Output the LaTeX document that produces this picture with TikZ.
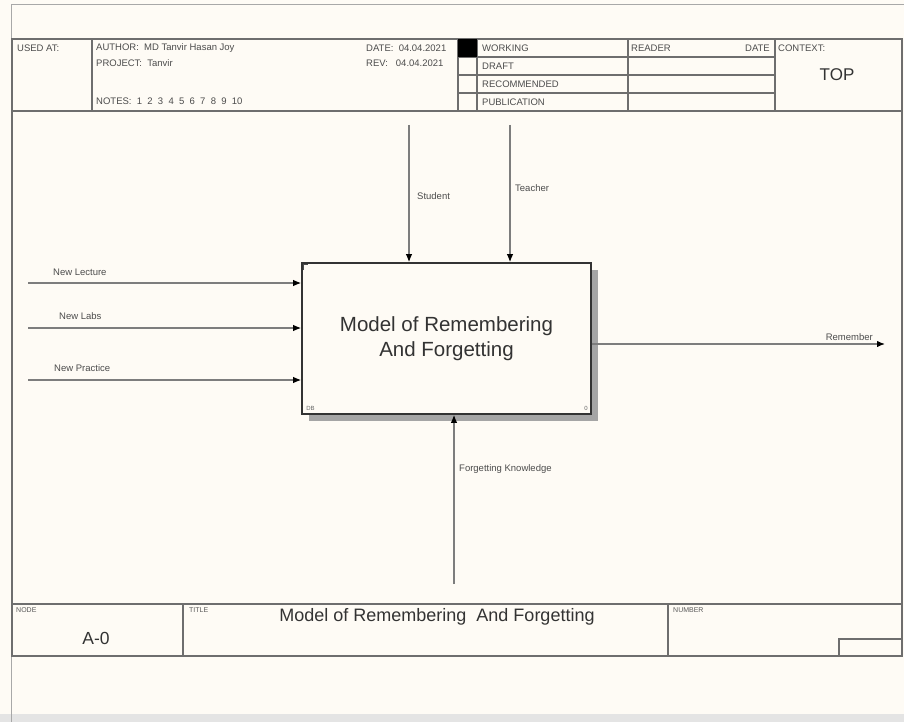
\documentclass[tikz,border=0pt]{standalone}
\usepackage{fontspec}
\setmainfont{Liberation Sans}
\usepackage{xcolor}
\usetikzlibrary{arrows.meta,positioning,calc}
\definecolor{paper}{RGB}{254,251,245}
\definecolor{gridline}{RGB}{110,110,110}
\definecolor{flowline}{RGB}{125,125,125}
\definecolor{shadowgray}{RGB}{165,165,165}
\definecolor{scrollgray}{RGB}{228,228,228}
\newcommand{\fsz}[1]{\fontsize{#1}{#1}\selectfont}

\begin{document}
\begin{tikzpicture}[x=1pt,y=-1pt,>={Latex[length=8pt,width=6.5pt,black]},
  lbl/.style={font=\fsz{9.5},text=black!70,inner sep=0pt,anchor=west},
  tag/.style={font=\fsz{7},text=black!65,inner sep=0pt,anchor=north west},
  grid/.style={gridline,line width=1.1pt},
  flow/.style={flowline,line width=1.3pt,->},
  actbox/.style={draw=black!80,line width=1.6pt,fill=paper,minimum width=289pt,
    minimum height=151pt,align=center,font=\fsz{20.5},text=black!80}]
  % sheet and window border
  \fill[paper] (0,0) rectangle (904,722);
  \useasboundingbox (0,0) rectangle (904,722);
  \fill[scrollgray] (0,714) rectangle (904,722);
  \draw[gridline!60,line width=1pt] (11,722)--(11,5)--(904,5);

  % header block
  \draw[grid] (12,39) rectangle (902,111);
  \foreach \xx in {92,458,477,628,775} \draw[grid] (\xx,39)--(\xx,111);
  \foreach \yy in {57,75,93} \draw[grid] (458,\yy)--(775,\yy);
  \fill[black] (458,39) rectangle (477,57);
  \node[lbl] (usedat) at (17,48) {USED AT:};
  \node[lbl] (author) at (96,48) {AUTHOR:\ \ MD Tanvir Hasan Joy};
  \node[lbl] (project) at (96,63) {PROJECT:\ \ Tanvir};
  \node[lbl] (notes) at (96,101) {NOTES:\ \ 1\ \ 2\ \ 3\ \ 4\ \ 5\ \ 6\ \ 7\ \ 8\ \ 9\ \ 10};
  \node[lbl] (date) at (366,48) {DATE:\ \ 04.04.2021};
  \node[lbl] (rev) at (366,63) {REV:\ \ \ 04.04.2021};
  \node[lbl] (working) at (482,48) {WORKING};
  \node[lbl] (draft) at (482,66) {DRAFT};
  \node[lbl] (recom) at (482,84) {RECOMMENDED};
  \node[lbl] (publ) at (482,102) {PUBLICATION};
  \node[lbl] (reader) at (631,48) {READER};
  \node[lbl,anchor=east] (rdate) at (770,48) {DATE};
  \node[lbl] (context) at (778,48) {CONTEXT:};
  \node[font=\fsz{17},text=black!80] (top) at (837,75) {TOP};

  % frame sides
  \draw[grid] (12,111)--(12,604) (902,111)--(902,604);

  % activity box with its shadow
  \fill[shadowgray] (309,270) rectangle (598,421);
  \node[actbox] (box) at (446.5,338.5) {Model of Remembering\\[5pt]And Forgetting};
  \node[font=\fsz{6},text=black!60,anchor=south west,inner sep=0pt] (dbtag)
    at ([shift={(5,-4)}]box.south west) {DB};
  \node[font=\fsz{6},text=black!60,anchor=south east,inner sep=0pt] (numtag)
    at ([shift={(-4,-4)}]box.south east) {0};
  \draw[black!70,line width=0.8pt] ([shift={(2,8)}]box.north west)--++(0,-6)--++(5,0);

  % inputs
  \coordinate (lecS) at (28,283);
  \coordinate (labS) at (28,328);
  \coordinate (praS) at (28,380);
  \draw[flow] (lecS) -- (lecS -| box.west);
  \draw[flow] (labS) -- (labS -| box.west);
  \draw[flow] (praS) -- (praS -| box.west);
  \node[lbl] (lecL) at (53,272) {New Lecture};
  \node[lbl] (labL) at (59,316) {New Labs};
  \node[lbl] (praL) at (54,368) {New Practice};

  % controls
  \coordinate (stuS) at (409,125);
  \coordinate (teaS) at (510,125);
  \draw[flow] (stuS) -- (stuS |- box.north);
  \draw[flow] (teaS) -- (teaS |- box.north);
  \node[lbl] (stuL) at (417,196) {Student};
  \node[lbl] (teaL) at (515,188) {Teacher};

  % output
  \coordinate (remE) at (885,344);
  \draw[flow] (remE -| box.east) -- (remE);
  \node[lbl,anchor=east] (remL) at (873,337) {Remember};

  % mechanism
  \coordinate (forS) at (454,584);
  \draw[flow] (forS) -- (forS |- box.south);
  \node[lbl] (forL) at (459,469) {Forgetting Knowledge};

  % footer block
  \draw[grid] (12,604) rectangle (902,656);
  \draw[grid] (183,604)--(183,656) (668,604)--(668,656);
  \draw[grid] (839,656)--(839,639)--(902,639);
  \node[tag] (nodetag) at (16,607) {NODE};
  \node[tag] (titletag) at (189,607) {TITLE};
  \node[tag] (numbertag) at (673,607) {NUMBER};
  \node[font=\fsz{17.5},text=black!80] (nodeid) at (96,638) {A-0};
  \node[font=\fsz{18},text=black!80] (title) at (437,617) {Model of Remembering\ \ And Forgetting};
\end{tikzpicture}
\end{document}
